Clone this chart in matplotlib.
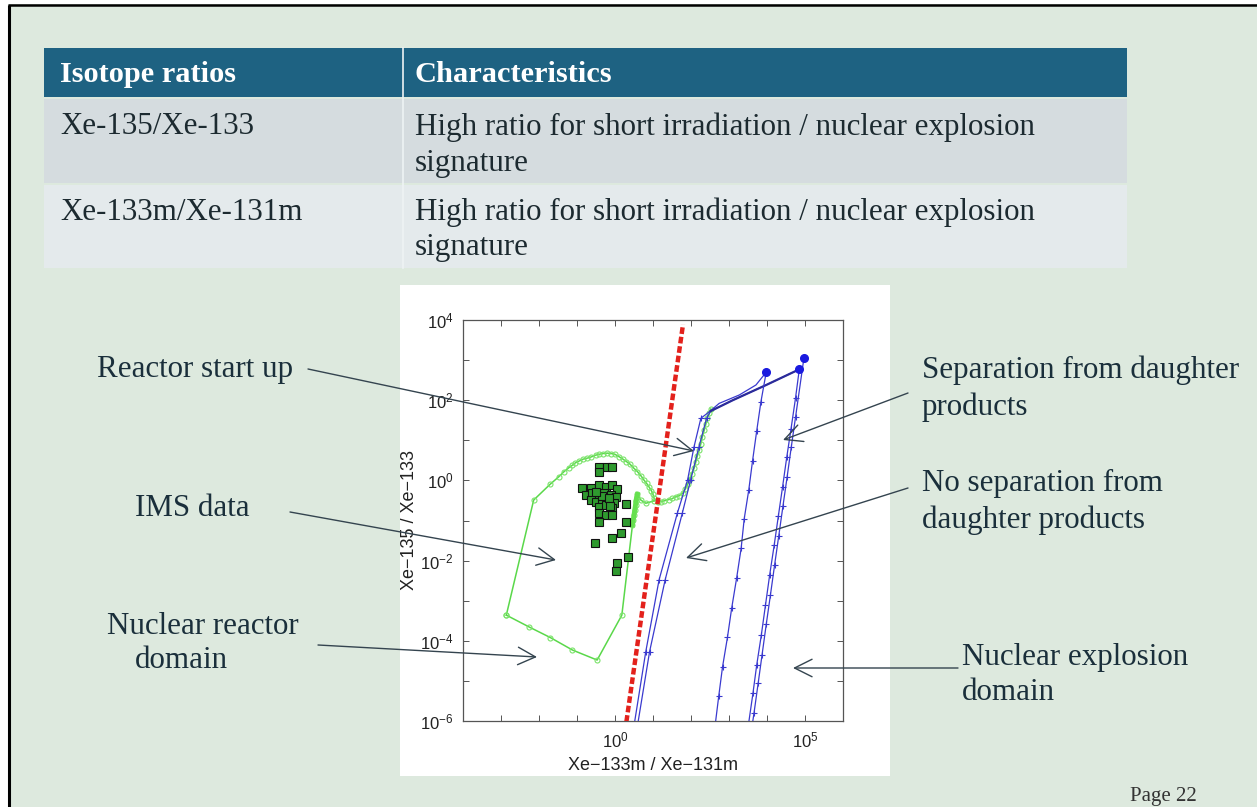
import numpy as np
import matplotlib
matplotlib.use("Agg")
import matplotlib.pyplot as plt
from matplotlib.patches import Rectangle, FancyArrowPatch
from matplotlib.ticker import FixedLocator, FuncFormatter

# ---------------- table content ----------------
table_header = ["Isotope ratios", "Characteristics"]
table_ratios = ["Xe-135/Xe-133", "Xe-133m/Xe-131m"]
table_chars_line1 = ["High ratio for short irradiation / nuclear explosion",
                     "High ratio for short irradiation / nuclear explosion"]
table_chars_line2 = ["signature", "signature"]

# ---------------- plot data (log10 of the ratios) ----------------
# red dashed discrimination line
red_x = [0.30, 1.79]
red_y = [-6.02, 3.89]

# green reactor domain: outer curve (left edge, top arc, reactor start-up)
g1_x = [-2.86, -2.14, -1.70, -1.48, -1.34, -1.21, -1.12, -1.04, -0.95, -0.84,
        -0.75, -0.64, -0.51, -0.42, -0.32, -0.20, -0.10, 0.00, 0.11, 0.21,
        0.30, 0.39, 0.50, 0.59, 0.68, 0.76, 0.83, 0.90, 0.96, 1.00,
        1.03, 1.12, 1.20, 1.29, 1.41, 1.51, 1.60, 1.69, 1.78, 1.85,
        1.91, 1.97, 2.02, 2.08, 2.13, 2.17, 2.22, 2.26, 2.30, 2.35,
        2.39, 2.43, 2.48, 2.52]
g1_y = [-3.36, -0.49, -0.09, 0.09, 0.22, 0.32, 0.38, 0.44, 0.48, 0.53,
        0.55, 0.58, 0.63, 0.65, 0.67, 0.68, 0.67, 0.65, 0.59, 0.53,
        0.47, 0.41, 0.30, 0.22, 0.12, 0.01, -0.07, -0.17, -0.26, -0.35,
        -0.45, -0.53, -0.53, -0.51, -0.48, -0.45, -0.41, -0.38, -0.32, -0.22,
        -0.10, 0.04, 0.17, 0.30, 0.47, 0.62, 0.76, 0.92, 1.09, 1.26,
        1.40, 1.55, 1.67, 1.78]

# green reactor domain: lower boundary and inner branch
g2_x = [-2.86, -2.27, -1.70, -1.12, -0.47, 0.18, 0.46, 0.48, 0.50, 0.52,
        0.54, 0.55, 0.57, 0.59, 0.68, 0.81, 1.03]
g2_y = [-3.36, -3.65, -3.92, -4.23, -4.48, -3.36, -1.11, -0.99, -0.86, -0.74,
        -0.61, -0.51, -0.42, -0.35, -0.49, -0.57, -0.51]

# IMS measurements
ims_x = [-0.42, -0.20, -0.07, -0.42, -0.86, -0.64, -0.42, -0.25, -0.07, 0.06,
         -0.77, -0.60, -0.42, -0.29, -0.11, 0.02, -0.64, -0.51, -0.33, -0.20,
         -0.03, 0.28, -0.42, -0.25, -0.07, -0.42, -0.25, -0.07, -0.42, 0.28,
         0.15, -0.07, -0.53, 0.35, 0.06, 0.02, -0.33, -0.16, -0.50, -0.12]
ims_y = [0.34, 0.34, 0.34, 0.22, -0.20, -0.20, -0.11, -0.16, -0.11, -0.21,
         -0.36, -0.32, -0.36, -0.32, -0.36, -0.41, -0.49, -0.53, -0.49, -0.53,
         -0.57, -0.60, -0.66, -0.61, -0.70, -0.82, -0.86, -0.86, -1.03, -1.03,
         -1.30, -1.44, -1.55, -1.90, -2.07, -2.26, -0.40, -0.45, -0.28, -0.65]

# "no separation from daughter products" curves
n1_x = [0.47, 0.81, 1.16, 1.64, 1.91, 2.08, 2.26, 2.48, 2.74, 3.27, 3.71, 3.98]
n1_y = [-6.30, -4.27, -2.48, -0.82, 0.01, 0.84, 1.55, 1.71, 1.92, 2.13, 2.38, 2.70]
n2_x = [0.56, 0.91, 1.32, 1.77, 1.99, 2.21, 2.41, 2.52, 3.10, 3.98, 4.85]
n2_y = [-6.30, -4.27, -2.48, -0.82, 0.01, 0.84, 1.55, 1.73, 2.00, 2.38, 2.77]

# "separation from daughter products" decay lines (start point = dot)
sa_x = [3.98, 3.84, 3.73, 3.62, 3.52, 3.40, 3.32, 3.20, 3.07, 2.96, 2.83, 2.73, 2.61]
sa_y = [2.70, 1.96, 1.24, 0.49, -0.24, -0.96, -1.69, -2.44, -3.19, -3.91, -4.65, -5.38, -6.30]
sb_x = [4.85, 4.75, 4.63, 4.52, 4.41, 4.30, 4.19, 4.07, 3.96, 3.85, 3.73, 3.63, 3.48]
sb_y = [2.77, 2.05, 1.27, 0.58, -0.16, -0.88, -1.61, -2.36, -3.11, -3.86, -4.60, -5.31, -6.30]
sc_x = [4.97, 4.75, 4.64, 4.53, 4.42, 4.31, 4.20, 4.09, 3.98, 3.87, 3.77, 3.66, 3.58]
sc_y = [3.04, 1.57, 0.84, 0.09, -0.64, -1.38, -2.11, -2.86, -3.59, -4.35, -5.04, -5.79, -6.30]

x_tick_exps = list(range(-4, 7))
x_label_exps = [0, 5]
y_tick_exps = list(range(-6, 5))
y_label_exps = [-6, -4, -2, 0, 2, 4]

# annotation texts
ann_lines = [("Reactor start up", 97, 370), ("IMS data", 135, 508),
             ("Nuclear reactor", 107, 626), ("domain", 135, 661),
             ("Separation from daughter", 922, 370), ("products", 922, 407),
             ("No separation from", 922, 483), ("daughter products", 922, 520),
             ("Nuclear explosion", 962, 657), ("domain", 962, 692)]
ann_arrows = [((308, 369), (694, 451)), ((290, 512), (556, 560)),
              ((318, 645), (537, 657)), ((908, 393), (783, 440)),
              ((908, 488), (686, 558)), ((958, 668), (793, 668))]

W, H = 1257, 807
fig = plt.figure(figsize=(W / 100, H / 100), dpi=100, facecolor="#dde9de")

serif = ["Liberation Serif", "DejaVu Serif"]
sans = ["Liberation Sans", "DejaVu Sans"]
FS = 22.3

# ---------- background layer (pixel coordinates) ----------
bg = fig.add_axes([0, 0, 1, 1], zorder=0)
bg.set_xlim(0, W)
bg.set_ylim(H, 0)
bg.axis("off")
bg.add_patch(Rectangle((0, 0), 8, H, color="white", lw=0))
bg.add_patch(Rectangle((0, 0), W, 4, color="white", lw=0))
bg.plot([8.5, 8.5], [4.5, H], color="black", lw=2.2, solid_capstyle="butt")
bg.plot([8, W], [5, 5], color="black", lw=1.8, solid_capstyle="butt")

# table
bg.add_patch(Rectangle((44, 48), 1083, 49, color="#1e6282", lw=0))
bg.add_patch(Rectangle((44, 99), 1083, 84, color="#d5dcdf", lw=0))
bg.add_patch(Rectangle((44, 185), 1083, 83, color="#e4eaec", lw=0))
bg.plot([403, 403], [48, 268], color="#eef3f4", lw=1.2)
bg.text(60, 74, table_header[0], fontsize=FS * 0.98, fontweight="bold", color="white",
        family=serif, va="center", ha="left")
bg.text(415, 74, table_header[1], fontsize=FS * 0.98, fontweight="bold", color="white",
        family=serif, va="center", ha="left")
row_y = [127, 212]
for i in range(2):
    bg.text(60, row_y[i], table_ratios[i], fontsize=FS, color="#1c2a30",
            family=serif, va="center", ha="left")
    bg.text(415, row_y[i], table_chars_line1[i], fontsize=FS, color="#1c2a30",
            family=serif, va="center", ha="left")
    bg.text(415, row_y[i] + 36, table_chars_line2[i], fontsize=FS, color="#1c2a30",
            family=serif, va="center", ha="left")

# white panel behind the chart
bg.add_patch(Rectangle((400, 285), 490, 491, color="white", lw=0))

for txt, x, y in ann_lines:
    bg.text(x, y, txt, fontsize=FS, color="#1a2f3b", family=serif,
            va="center", ha="left")
bg.text(1130, 797, "Page 22", fontsize=15, color="#333333", family=serif,
        va="center", ha="left")

# ---------- chart ----------
L, R, T, B = 463, 843, 320, 721
ax = fig.add_axes([L / W, 1 - B / H, (R - L) / W, (B - T) / H], zorder=1)
ax.set_xscale("log")
ax.set_yscale("log")
ax.set_xlim(1e-4, 1e6)
ax.set_ylim(1e-6, 1e4)

tx = lambda v: 10.0 ** np.asarray(v)

green = "#5ad84a"
ax.plot(tx(g1_x), tx(g1_y), color=green, lw=1.1, marker="o", ms=3.6,
        mfc="none", mec="#7be36a", mew=0.8, zorder=3)
ax.plot(tx(g2_x), tx(g2_y), color=green, lw=1.1, marker="o", ms=3.6,
        mfc="none", mec="#7be36a", mew=0.8, zorder=3)
ax.plot(tx(g2_x[6:14]), tx(g2_y[6:14]), color="#66e04f", lw=3.5, zorder=3)

ax.plot(tx(ims_x), tx(ims_y), ls="none", marker="s", ms=5.2, mfc="#2f9a2f",
        mec="#111111", mew=0.8, zorder=4)

blue = "#3a3acf"
ax.plot(tx(n1_x), tx(n1_y), color=blue, lw=0.9, marker="+", ms=5, mew=0.8,
        markevery=list(range(1, 7)), zorder=5)
ax.plot(tx(n2_x), tx(n2_y), color=blue, lw=0.9, marker="+", ms=5, mew=0.8,
        markevery=list(range(1, 7)), zorder=5)
ax.plot(tx(n2_x[7:]), tx(n2_y[7:]), color="#2b2b9a", lw=1.6, zorder=5)
for xs, ys in [(sa_x, sa_y), (sb_x, sb_y), (sc_x, sc_y)]:
    ax.plot(tx(xs), tx(ys), color=blue, lw=0.9, marker="+", ms=5, mew=0.8,
            markevery=list(range(1, len(xs) - 1)), zorder=5)
    ax.plot(tx(xs[0]), tx(ys[0]), ls="none", marker="o", ms=5.5,
            color="#1a1adf", zorder=6)

ax.plot(tx(red_x), tx(red_y), color="#e3211c", lw=3.2, dashes=(1.5, 0.65),
        zorder=6)

ax.xaxis.set_major_locator(FixedLocator([10.0 ** e for e in x_tick_exps]))
ax.yaxis.set_major_locator(FixedLocator([10.0 ** e for e in y_tick_exps]))
ax.xaxis.set_minor_locator(FixedLocator([]))
ax.yaxis.set_minor_locator(FixedLocator([]))


def fmt_x(v, pos):
    e = int(round(np.log10(v)))
    return r"$\mathregular{10^{%d}}$" % e if e in x_label_exps else ""


def fmt_y(v, pos):
    e = int(round(np.log10(v)))
    return r"$\mathregular{10^{%d}}$" % e if e in y_label_exps else ""


ax.xaxis.set_major_formatter(FuncFormatter(fmt_x))
ax.yaxis.set_major_formatter(FuncFormatter(fmt_y))
ax.tick_params(which="both", direction="in", top=True, right=True, length=4,
               width=0.7, color="#555555", labelsize=12, pad=7,
               labelcolor="#222222")
for lab in ax.get_xticklabels() + ax.get_yticklabels():
    lab.set_family(sans)
for s in ax.spines.values():
    s.set_color("#555555")
    s.set_linewidth(0.9)

ax.text(0.5, (B - 765) / (B - T), "Xe\u2212133m / Xe\u2212131m", transform=ax.transAxes,
        ha="center", va="center", fontsize=13, family=sans, color="#222222")
ax.text((410 - L) / (R - L), 0.5, "Xe\u2212135 / Xe\u2212133", transform=ax.transAxes,
        ha="center", va="center", rotation=90, fontsize=13, family=sans,
        color="#222222")

# ---------- arrows overlay ----------
ov = fig.add_axes([0, 0, 1, 1], zorder=3)
ov.set_xlim(0, W)
ov.set_ylim(H, 0)
ov.axis("off")
ov.patch.set_alpha(0)
for (x0, y0), (x1, y1) in ann_arrows:
    ov.add_patch(FancyArrowPatch((x0, y0), (x1, y1),
                                 arrowstyle="->,head_length=0.7,head_width=0.35",
                                 mutation_scale=18, lw=1.0, color="#34444f",
                                 shrinkA=0, shrinkB=0))

fig.savefig("out.png", dpi=100, facecolor=fig.get_facecolor())
